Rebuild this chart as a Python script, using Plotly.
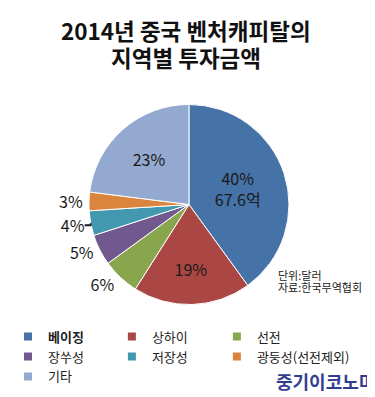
import plotly.graph_objects as go

# ---- data ----
regions = ["<b>베이징</b>", "상하이", "선전", "장쑤성", "저장성", "광둥성(선전제외)", "기타"]
shares = [40, 19, 6, 5, 4, 3, 23]
amounts = ["67.6억", "", "", "", "", "", ""]
label_pos = ["inside", "inside", "outside", "outside", "outside", "outside", "inside"]
colors = ["#4572A7", "#AA4643", "#89A54E", "#71588F", "#4198AF", "#DB843D", "#93A9CF"]

title_lines = ["2014년 중국 벤처캐피탈의", "지역별 투자금액"]
note_lines = ["단위:달러", "자료:한국무역협회"]
logo_text = "중기이코노미"

FONT = "Noto Sans CJK KR, Malgun Gothic, sans-serif"
LEGEND_KEYS = ["legend", "legend2", "legend3"]
LEGEND_X = [0.0, 0.277, 0.557]

texts = [f"{s}%" + (f"<br>{a}" if a else "") for s, a in zip(shares, amounts)]

fig = go.Figure()
fig.add_trace(
    go.Pie(
        labels=regions,
        values=shares,
        text=texts,
        textinfo="text",
        textposition=label_pos,
        sort=False,
        direction="clockwise",
        rotation=0,
        marker=dict(colors=colors, line=dict(color="white", width=1)),
        textfont=dict(family=FONT, size=16, color="#1a1a1a"),
        insidetextorientation="horizontal",
        domain=dict(x=[0.204, 0.761], y=[0.253, 0.757]),
        hoverinfo="label+percent",
        showlegend=False,
    )
)

# legend entries, laid out in three columns like the original
for i, (name, col) in enumerate(zip(regions, colors)):
    fig.add_trace(
        go.Scatter(
            x=[None], y=[None], mode="markers", name=name,
            marker=dict(symbol="square", size=8, color=col),
            legend=LEGEND_KEYS[i % 3],
            hoverinfo="skip",
        )
    )

annotations = []
for i, line in enumerate(title_lines):
    annotations.append(
        dict(
            text="<b>" + line + "</b>",
            x=0.475, y=0.9446 - i * 0.068, xref="paper", yref="paper",
            xanchor="center", yanchor="middle", showarrow=False,
            font=dict(family=FONT, size=22.5, color="#111111"),
        )
    )
annotations.append(
    dict(
        text="<b>" + logo_text + "</b>",
        x=0.985, y=0.0605, xref="paper", yref="paper",
        xanchor="right", yanchor="middle", showarrow=False,
        font=dict(family=FONT, size=18, color="#333D8F"),
    )
)
for i, line in enumerate(note_lines):
    annotations.append(
        dict(
            text=line,
            x=0.715, y=0.3276 - i * 0.031, xref="paper", yref="paper",
            xanchor="left", yanchor="middle", showarrow=False, align="left",
            font=dict(family=FONT, size=11, color="#222222"),
        )
    )

legend_common = dict(
    orientation="v",
    y=0.21,
    xanchor="left",
    yanchor="top",
    bgcolor="rgba(0,0,0,0)",
    font=dict(family=FONT, size=13, color="#222222"),
    traceorder="normal",
    tracegroupgap=0,
    itemclick=False,
    itemdoubleclick=False,
)

fig.update_layout(
    width=375,
    height=397,
    margin=dict(l=0, r=0, t=0, b=0),
    paper_bgcolor="white",
    plot_bgcolor="white",
    font=dict(family=FONT, color="#222222"),
    xaxis=dict(visible=False),
    yaxis=dict(visible=False),
    showlegend=True,
    annotations=annotations,
)
for key, lx in zip(LEGEND_KEYS, LEGEND_X):
    fig.update_layout({key: dict(x=lx, **legend_common)})

fig.write_html("out.html")
